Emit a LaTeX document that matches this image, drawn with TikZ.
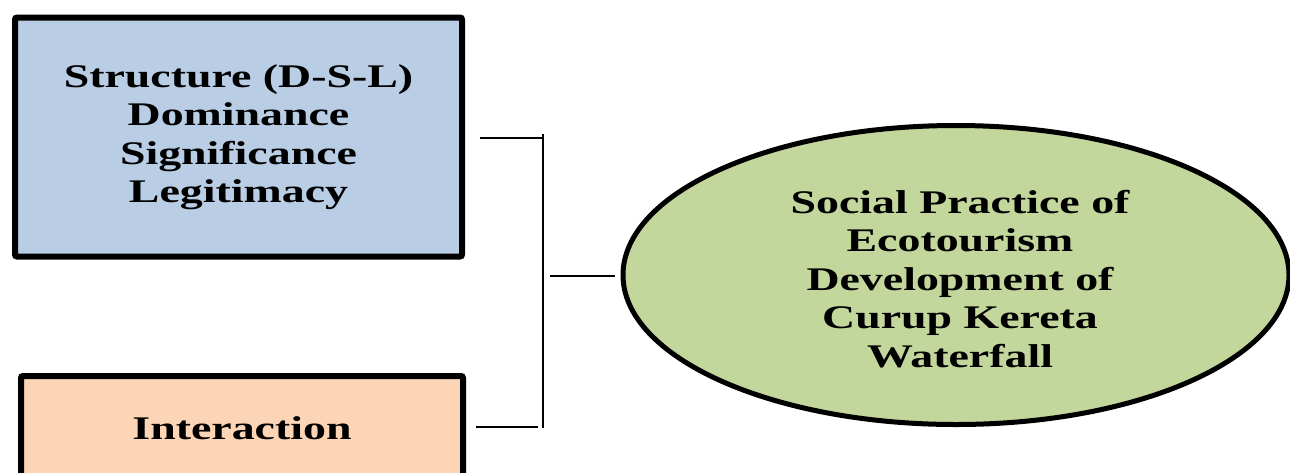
\documentclass[tikz,border=0pt]{standalone}
\usepackage{fontspec}
\setmainfont{Liberation Serif}
\newfontfamily\wideserif[FakeStretch=1.39]{Liberation Serif}
\usetikzlibrary{shapes.geometric}
\definecolor{boxblue}{HTML}{B9CDE5}
\definecolor{boxorange}{HTML}{FBD5B5}
\definecolor{ellgreen}{HTML}{C3D69B}
\begin{document}
\begin{tikzpicture}[x=1pt,y=-1pt,
  lbl/.style={font=\wideserif\bfseries\fontsize{33}{38.5}\selectfont, align=center, text=black},
  boxshape/.style={draw=black, line width=6pt, rounded corners=2pt, inner sep=0pt},
  link/.style={draw=black, line width=2pt}]
\useasboundingbox (0,0) rectangle (1290,472);
\clip (0,0) rectangle (1290,472);
\node[boxshape, fill=boxblue, minimum width=447pt, minimum height=239pt, lbl] (dsl) at (238.5,137)
  {Structure (D-S-L)\\Dominance\\Significance\\Legitimacy};
\node[boxshape, fill=boxorange, minimum width=442pt, minimum height=104pt, lbl] (inter) at (242,428)
  {Interaction};
\node[ellipse, draw=black, line width=5pt, fill=ellgreen, minimum width=666pt, minimum height=299pt, inner sep=0pt] (ell) at (956,275) {};
\node[lbl] (elltext) at (960,279)
  {Social Practice of\\Ecotourism\\Development of\\Curup Kereta\\Waterfall};
\coordinate (jt) at (543,138);
\coordinate (jb) at (543,427);
\coordinate (jm) at (550,276);
\draw[link] ([xshift=15pt]dsl.east |- jt) -- (jt);
\draw[link] ([xshift=10pt]inter.east |- jb) -- ([xshift=-5pt]jb);
\draw[link] ([yshift=4pt]jt) -- ([yshift=-1pt]jb);
\draw[link] (jm) -- ([xshift=-6pt]ell.west |- jm);
\end{tikzpicture}
\end{document}
